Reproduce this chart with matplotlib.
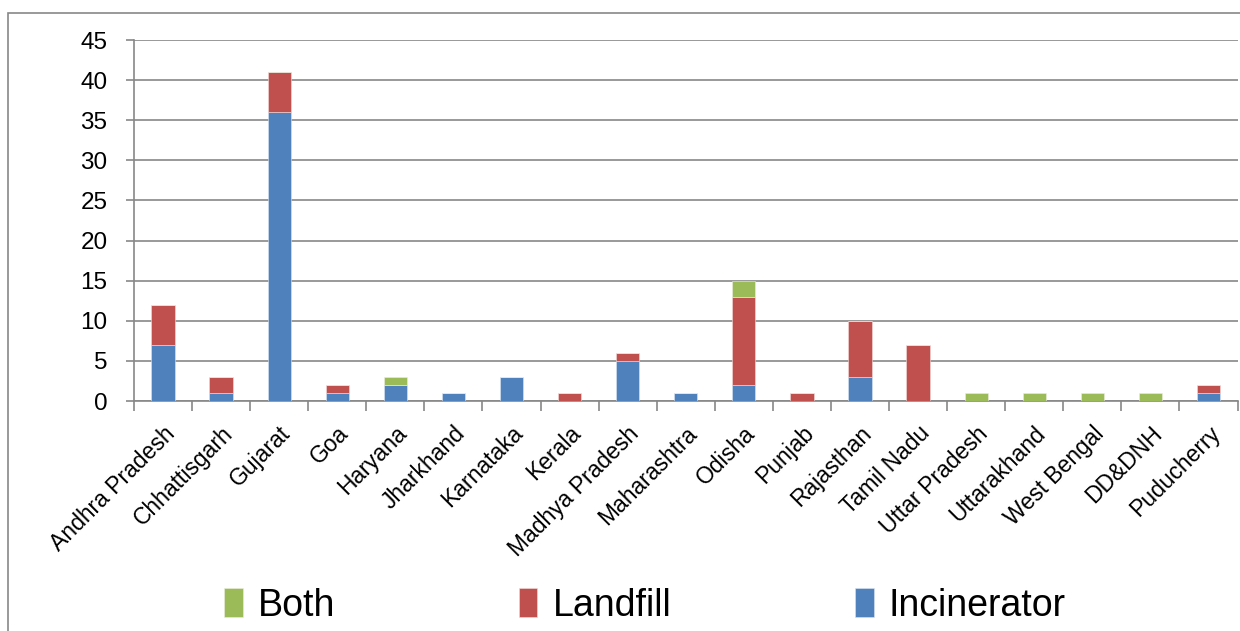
import numpy as np
import matplotlib.pyplot as plt
from matplotlib.patches import Rectangle

states = ["Andhra Pradesh", "Chhattisgarh", "Gujarat", "Goa", "Haryana",
          "Jharkhand", "Karnataka", "Kerala", "Madhya Pradesh", "Maharashtra",
          "Odisha", "Punjab", "Rajasthan", "Tamil Nadu", "Uttar Pradesh",
          "Uttarakhand", "West Bengal", "DD&DNH", "Puducherry"]
incinerator = [7, 1, 36, 1, 2, 1, 3, 0, 5, 1, 2, 0, 3, 0, 0, 0, 0, 0, 1]
landfill = [5, 2, 5, 1, 0, 0, 0, 1, 1, 0, 11, 1, 7, 7, 0, 0, 0, 0, 1]
both = [0, 0, 0, 0, 1, 0, 0, 0, 0, 0, 2, 0, 0, 0, 1, 1, 1, 1, 0]

c_inc = "#4F81BD"
c_land = "#C0504D"
c_both = "#9BBB59"
grey = "#878787"

plt.rcParams["font.family"] = ["Liberation Sans", "DejaVu Sans"]

fig = plt.figure(figsize=(12.4, 6.31), dpi=100)
ax = fig.add_axes([0.108, 0.3645, 0.890, 0.5721])

# outer chart border
fig.add_artist(Rectangle((8 / 1240, -0.05), 1.2, 1 - 13 / 631 + 0.05,
                         transform=fig.transFigure, fill=False,
                         edgecolor=grey, linewidth=1.2))

x = np.arange(len(states))
inc = np.array(incinerator)
land = np.array(landfill)
bth = np.array(both)
w = 0.4
ax.bar(x, inc, w, color=c_inc, edgecolor="#DCE6F2", linewidth=0.4, label="Incinerator", zorder=3)
ax.bar(x, land, w, bottom=inc, color=c_land, edgecolor="#F2DCDB", linewidth=0.4, label="Landfill", zorder=3)
ax.bar(x, bth, w, bottom=inc + land, color=c_both, edgecolor="#EBF1DE", linewidth=0.4, label="Both", zorder=3)

ax.set_xlim(-0.5, len(states) - 0.5)
ax.set_ylim(0, 45)
ax.set_yticks(range(0, 46, 5))
ax.grid(True, axis="y", color=grey, linewidth=1.2, zorder=0)
ax.set_axisbelow(True)

ax.set_xticks(x)
ax.set_xticklabels(states, rotation=45, ha="right", rotation_mode="anchor", fontsize=16.5)
ax.set_xticks(np.arange(-0.5, len(states)), minor=True)
ax.tick_params(axis="x", which="major", length=0, pad=15)
ax.tick_params(axis="x", which="minor", length=7, color=grey, width=1.2)
ax.tick_params(axis="y", length=6, color=grey, width=1.2, labelsize=17.5, pad=13)

for s in ["top", "right"]:
    ax.spines[s].set_visible(False)
for s in ["left", "bottom"]:
    ax.spines[s].set_color(grey)
    ax.spines[s].set_linewidth(1.2)

h, l = ax.get_legend_handles_labels()
fig.legend(h[::-1], l[::-1], loc="center", bbox_to_anchor=(0.52, 0.04), ncol=3,
           frameon=False, prop={"size": 27},
           handlelength=0.5, handleheight=0.8, handletextpad=0.4, columnspacing=4.9)

fig.savefig("out.png", dpi=100)
